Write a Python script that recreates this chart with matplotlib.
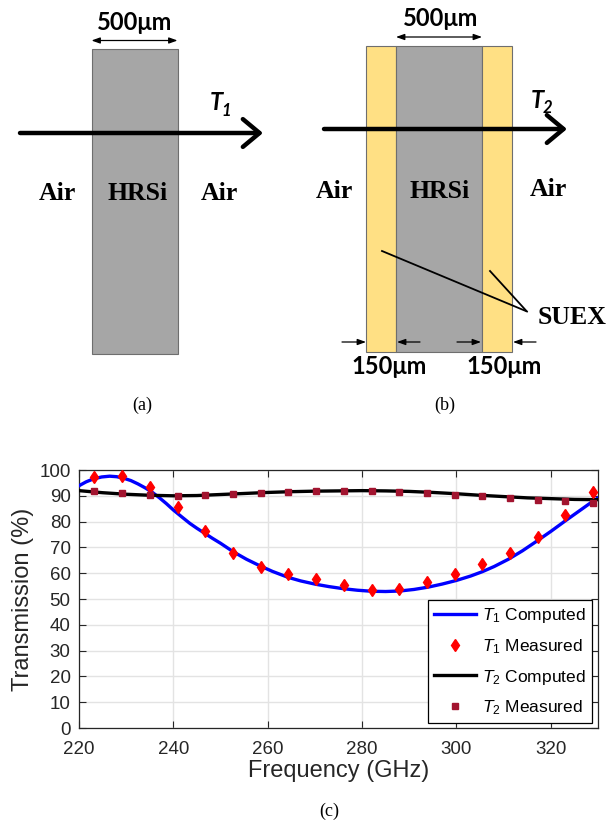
import matplotlib
matplotlib.use("Agg")
import matplotlib.pyplot as plt
from matplotlib.patches import Rectangle
from matplotlib.lines import Line2D

# ---------------- data ----------------
freq_meas = [223.2, 229.2, 235.0, 240.9, 246.7, 252.6, 258.5, 264.3, 270.3, 276.2,
             282.0, 287.9, 293.8, 299.6, 305.5, 311.4, 317.3, 323.1, 329.0]
t1_meas = [97.3, 97.5, 93.4, 85.8, 76.4, 68.0, 62.4, 59.6, 57.7, 55.4,
           53.5, 53.8, 56.4, 59.7, 63.4, 67.8, 74.1, 82.7, 91.4]
t2_meas = [91.8, 90.9, 90.4, 90.0, 90.3, 90.7, 91.2, 91.5, 91.7, 91.7,
           91.7, 91.6, 91.1, 90.4, 89.8, 89.1, 88.5, 88.0, 87.4]

freq_t1c = [220, 221.5, 223, 224.8, 226.5, 228, 229.5, 231, 232.5, 234, 235.5, 237,
            238.5, 240, 241.8, 243.5, 245, 246.7, 248.3, 250, 252.7, 255.5, 258.3,
            261, 264.3, 267, 270.2, 273, 276, 279, 282, 285, 288, 291, 294, 297,
            300, 303, 305.5, 308, 311, 314, 317, 320, 323, 326, 328, 330]
t1_comp = [93.9, 95.4, 96.5, 97.3, 97.6, 97.4, 96.8, 95.9, 94.6, 93.1, 91.4, 89.3,
           87.0, 84.5, 81.8, 79.3, 77.4, 75.4, 73.5, 71.6, 68.3, 65.4, 62.9,
           60.7, 58.4, 57.0, 55.7, 54.8, 54.0, 53.4, 53.0, 52.9, 53.1, 53.7, 54.6, 55.8,
           57.2, 58.9, 60.6, 62.6, 65.4, 68.7, 72.4, 76.2, 80.2, 84.1, 86.7, 89.2]

freq_t2c = [220, 225, 230, 235, 240, 245, 250, 255, 260, 265, 270, 275,
            280, 285, 290, 295, 300, 305, 310, 315, 320, 325, 330]
t2_comp = [92.0, 91.2, 90.6, 90.2, 90.0, 90.1, 90.5, 90.9, 91.3, 91.6, 91.8, 91.9,
           92.0, 91.9, 91.7, 91.3, 90.8, 90.2, 89.7, 89.2, 88.9, 88.6, 88.5]

x_ticks = [220, 240, 260, 280, 300, 320]
y_ticks = [0, 10, 20, 30, 40, 50, 60, 70, 80, 90, 100]
legend_labels = [r'$\mathit{T_1}$ Computed', r'$\mathit{T_1}$ Measured',
                 r'$\mathit{T_2}$ Computed', r'$\mathit{T_2}$ Measured']

# ---------------- figure ----------------
plt.rcParams['font.family'] = ['Liberation Sans', 'DejaVu Sans']
plt.rcParams['mathtext.fontset'] = 'custom'
plt.rcParams['mathtext.rm'] = 'Liberation Sans'
plt.rcParams['mathtext.it'] = 'Liberation Sans:italic'

W, H = 616, 821
fig = plt.figure(figsize=(W / 100, H / 100), dpi=100)

# ---- schematic layer (pixel coordinates) ----
d = fig.add_axes([0, 0, 1, 1])
d.set_xlim(0, W)
d.set_ylim(H, 0)
d.axis('off')

GRAY = '#A6A6A6'
YELLOW = '#FFE084'
EDGE = '#6E6E6E'
serif = ['Liberation Serif', 'DejaVu Serif']
dimfont = ['Lato', 'Open Sans', 'DejaVu Sans']

def arrow(x0, y0, x1, y1, style, lw, ms):
    d.annotate('', xy=(x1, y1), xytext=(x0, y0),
               arrowprops=dict(arrowstyle=style, lw=lw, color='black',
                               shrinkA=0, shrinkB=0, mutation_scale=ms))

# panel (a)
d.add_patch(Rectangle((91.5, 49.5), 86, 305, facecolor=GRAY, edgecolor=EDGE, lw=0.8))
arrow(91.5, 40.5, 177.5, 40.5, '<|-|>,head_length=0.5,head_width=0.18', 0.9, 10)
d.text(135, 22, '500μm', family=dimfont, weight='bold', fontsize=17, ha='center', va='center')
arrow(20, 133, 263, 133, '->,head_length=0.6,head_width=0.5', 3.2, 20)
d.text(216, 103, 'T', family=dimfont, weight='bold', style='italic', fontsize=17, ha='center', va='center')
d.text(226, 111, '1', family=dimfont, weight='bold', style='italic', fontsize=12, ha='center', va='center')
for x, s in [(57, 'Air'), (138, 'HRSi'), (219, 'Air')]:
    d.text(x, 193, s, family=serif, weight='bold', fontsize=18.5, ha='center', va='center')
d.text(142, 405, '(a)', family=serif, fontsize=13, ha='center', va='center')

# panel (b)
d.add_patch(Rectangle((366, 46), 30, 306, facecolor=YELLOW, edgecolor=EDGE, lw=0.8))
d.add_patch(Rectangle((396, 46), 86, 306, facecolor=GRAY, edgecolor=EDGE, lw=0.8))
d.add_patch(Rectangle((482, 46), 30, 306, facecolor=YELLOW, edgecolor=EDGE, lw=0.8))
arrow(396, 37, 482, 37, '<|-|>,head_length=0.5,head_width=0.18', 0.9, 10)
d.text(441, 18, '500μm', family=dimfont, weight='bold', fontsize=17, ha='center', va='center')
arrow(324, 129, 567, 129, '->,head_length=0.6,head_width=0.5', 3.2, 20)
d.text(537, 100, 'T', family=dimfont, weight='bold', style='italic', fontsize=17, ha='center', va='center')
d.text(547.5, 108, '2', family=dimfont, weight='bold', style='italic', fontsize=12, ha='center', va='center')
for x, y, s in [(334, 191, 'Air'), (440, 191, 'HRSi'), (548, 190, 'Air')]:
    d.text(x, y, s, family=serif, weight='bold', fontsize=18.5, ha='center', va='center')
d.plot([382, 527], [251, 311.5], color='black', lw=1.3)
d.plot([490, 526], [271, 310.5], color='black', lw=1.3)
d.text(572, 317, 'SUEX', family=serif, weight='bold', fontsize=18.5, ha='center', va='center')
small = '-|>,head_length=0.5,head_width=0.18'
arrow(342, 342, 366, 342, small, 0.9, 10)
arrow(420, 342, 397, 342, small, 0.9, 10)
arrow(457, 342, 481, 342, small, 0.9, 10)
arrow(536, 342, 513, 342, small, 0.9, 10)
d.text(389, 367, '150μm', family=dimfont, weight='bold', fontsize=17, ha='center', va='center')
d.text(504, 367, '150μm', family=dimfont, weight='bold', fontsize=17, ha='center', va='center')
d.text(445, 405, '(b)', family=serif, fontsize=13, ha='center', va='center')
d.text(329, 811, '(c)', family=serif, fontsize=13, ha='center', va='center')

# ---- chart (c) ----
L, R, T, B = 79, 598, 470, 728
ax = fig.add_axes([L / W, 1 - B / H, (R - L) / W, (B - T) / H])
AXC = '#262626'
ax.plot(freq_t1c, t1_comp, color='#0000FF', lw=2.4, zorder=3)
ax.plot(freq_meas, t1_meas, linestyle='none', marker='d', ms=6.3, color='#FF0000',
        mec='#FF0000', zorder=4)
ax.plot(freq_t2c, t2_comp, color='black', lw=2.4, zorder=3)
ax.plot(freq_meas, t2_meas, linestyle='none', marker='s', ms=4.5, color='#A2142F',
        mec='#A2142F', zorder=4)
ax.set_xlim(220, 330)
ax.set_ylim(0, 100)
ax.set_xticks(x_ticks)
ax.set_yticks(y_ticks)
ax.grid(True, color='#E3E3E3', lw=1.0)
ax.set_axisbelow(True)
ax.tick_params(direction='in', top=True, right=True, length=5, width=0.8,
               labelsize=13.5, colors=AXC)
ax.tick_params(axis='x', pad=9)
ax.tick_params(axis='y', pad=6)
for s in ax.spines.values():
    s.set_color(AXC)
    s.set_linewidth(0.9)
ax.set_xlabel('Frequency (GHz)', fontsize=17, color=AXC, labelpad=2)
ax.set_ylabel('Transmission (%)', fontsize=17, color=AXC, labelpad=4)

handles = [Line2D([], [], color='#0000FF', lw=2.4),
           Line2D([], [], ls='none', marker='d', ms=6.3, color='#FF0000'),
           Line2D([], [], color='black', lw=2.4),
           Line2D([], [], ls='none', marker='s', ms=4.5, color='#A2142F')]
leg = ax.legend(handles, legend_labels, loc='lower right',
                bbox_to_anchor=(0.988, 0.019), fontsize=12.5, frameon=True,
                fancybox=False, framealpha=1, edgecolor='black',
                handlelength=2.4, handletextpad=0.35, labelspacing=0.68,
                borderpad=0.35, borderaxespad=0)
leg.get_frame().set_linewidth(0.9)

fig.savefig('out.png', dpi=100)
